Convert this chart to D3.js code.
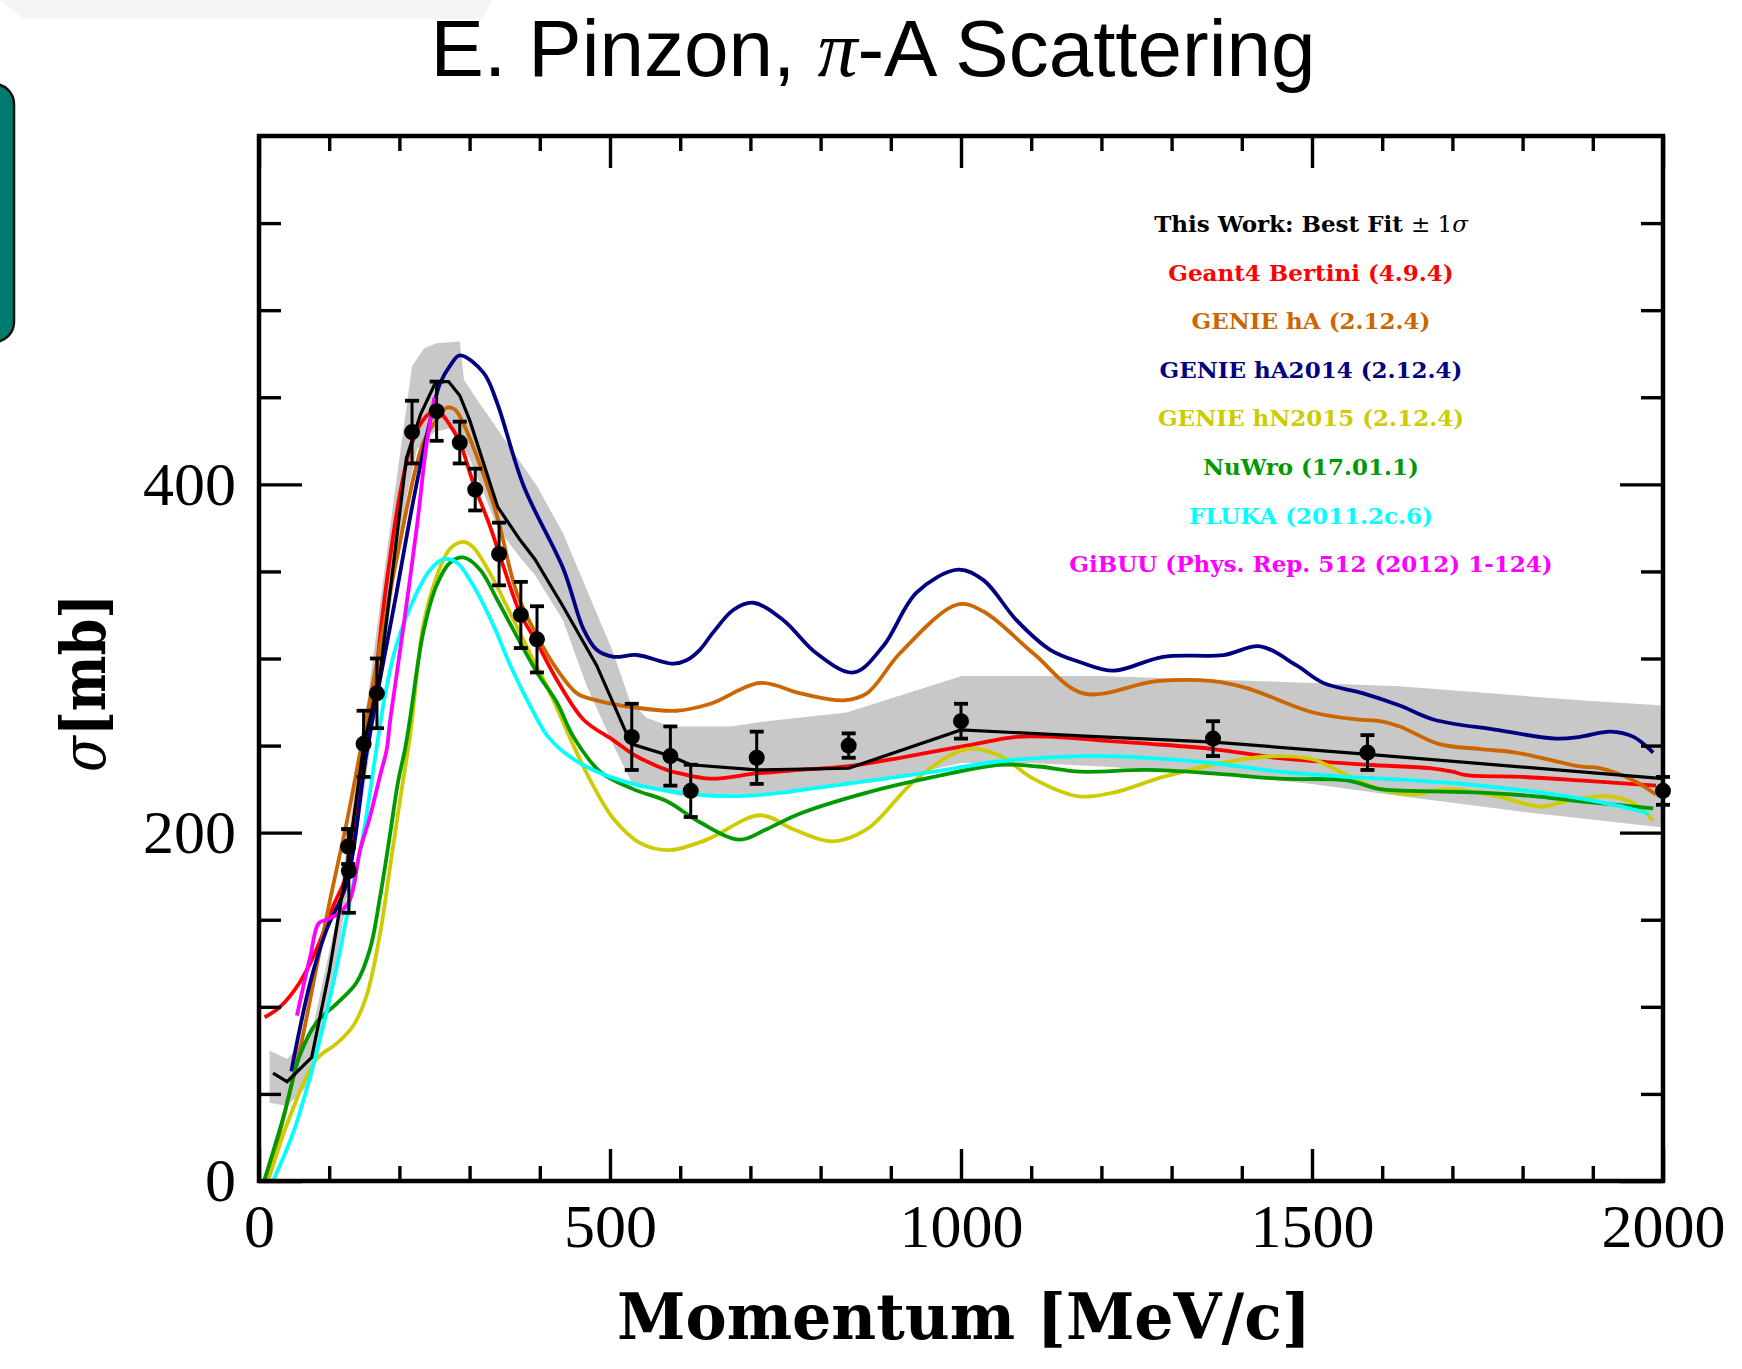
<!DOCTYPE html>
<html>
<head>
<meta charset="utf-8">
<script src="https://cdn.jsdelivr.net/npm/d3@7/dist/d3.min.js"></script>
<style>
body { margin: 0; background: #fff; }
svg { display: block; }
</style>
</head>
<body>
<script>
var width = 1742;
var height = 1369;

// axis ticks
var xMajorTicks = [0, 500, 1000, 1500, 2000];
var xMinorTicks = [100, 200, 300, 400, 600, 700, 800, 900, 1100, 1200, 1300, 1400, 1600, 1700, 1800, 1900];
var yMajorTicks = [0, 200, 400];
var yMinorTicks = [50, 100, 150, 250, 300, 350, 450, 500, 550];

// data points (momentum, cross section, error)
var dataMom = [127, 128, 149, 168, 218, 253, 286, 308, 342, 373, 396, 531, 586, 615, 709, 840, 1000, 1359, 1579, 2000];
var dataXs  = [192, 178, 251, 280, 430, 442, 424, 397, 360, 325, 311, 255, 244, 224, 243, 250, 264, 254, 246, 224];
var dataErr = [10, 24, 19, 20, 18, 17, 12, 12, 18, 19, 19, 19, 17, 15, 15, 7, 10, 10, 10, 8];

// best fit line
var fitMom = [20, 40, 75, 100, 127, 149, 172, 210, 230, 252, 270, 286, 300, 340, 372, 393, 433, 481, 530, 586, 615, 709, 840, 1000, 1200, 1360, 1580, 2000];
var fitXs  = [62, 57, 71, 120, 185, 250, 290, 415, 440, 459, 459, 451, 437, 387, 368, 357, 330, 296, 251, 244, 239, 236, 237, 259, 255, 252, 245, 231];

// +-1 sigma band
var bandUpMom = [15, 40, 75, 110, 150, 190, 218, 235, 253, 286, 292, 310, 396, 433, 505, 528, 552, 586, 671, 723, 837, 1001, 1198, 1502, 1625, 1882, 2000];
var bandUpXs  = [75, 70, 85, 150, 262, 385, 468, 478, 481, 482, 460, 449, 399, 372, 303, 276, 266, 261, 261, 264, 269, 290, 290, 286, 284, 276, 273];
var bandLoMom = [15, 40, 75, 110, 150, 210, 225, 250, 270, 286, 300, 340, 372, 393, 433, 467, 505, 533, 600, 700, 800, 900, 1000, 1100, 1200, 1360, 1500, 1625, 1800, 2000];
var bandLoXs  = [45, 43, 57, 125, 225, 392, 420, 430, 432, 425, 415, 375, 358, 348, 322, 284, 250, 227, 221, 222, 225, 231, 240, 240, 238, 234, 228, 221, 212, 203];

// generators
var g4Mom = [8, 30, 58, 82, 106, 125, 140, 150, 161, 180, 201, 215, 229, 244, 255, 267, 286, 305, 329, 348, 372, 396, 424, 462, 505, 533, 552, 581, 600, 643, 709, 770, 837, 913, 1008, 1079, 1130, 1198, 1270, 1359, 1450, 1578, 1668, 1700, 1720, 1800, 1882, 1990];
var g4Xs  = [94, 100, 114, 133, 158, 176, 212, 240, 271, 338, 395, 420, 434, 441, 442, 437, 424, 401, 376, 353, 326, 309, 288, 265, 253, 245, 241, 236, 234, 231, 234, 236, 238, 243, 250, 255, 255, 253, 251, 248, 243, 239, 237, 235, 233, 232, 230, 227];

var haMom = [12, 58, 82, 101, 125, 144, 170, 196, 234, 253, 267, 279, 291, 315, 339, 367, 396, 424, 453, 481, 533, 595, 643, 714, 771, 832, 866, 913, 995, 1032, 1103, 1174, 1279, 1359, 1407, 1502, 1564, 1597, 1625, 1680, 1740, 1790, 1882, 1910, 1958, 1990];
var haXs  = [0, 75, 123, 161, 206, 246, 302, 357, 424, 437, 444, 443, 435, 411, 382, 338, 313, 294, 280, 276, 272, 270, 274, 286, 280, 276, 280, 303, 331, 327, 303, 280, 287, 287, 283, 269, 265, 264, 261, 251, 248, 246, 238, 237, 230, 222];

var ha14Mom = [46, 73, 96, 125, 153, 196, 220, 244, 258, 272, 286, 320, 339, 377, 434, 462, 481, 505, 538, 590, 609, 628, 647, 676, 704, 747, 794, 847, 889, 937, 996, 1032, 1079, 1127, 1169, 1217, 1288, 1374, 1426, 1478, 1516, 1573, 1625, 1673, 1763, 1848, 1882, 1925, 1958, 1986];
var ha14Xs  = [63, 114, 144, 171, 245, 338, 391, 437, 458, 468, 474, 464, 447, 399, 351, 317, 305, 301, 302, 297, 299, 305, 315, 328, 332, 322, 303, 292, 307, 338, 351, 345, 322, 305, 298, 293, 301, 302, 307, 296, 286, 280, 273, 265, 259, 254, 255, 258, 255, 246];

var hnMom = [13, 44, 82, 111, 134, 153, 172, 187, 201, 216, 234, 253, 272, 291, 305, 329, 358, 386, 415, 448, 476, 505, 543, 585, 638, 714, 761, 817, 866, 937, 1008, 1056, 1103, 1165, 1217, 1288, 1383, 1454, 1502, 1550, 1597, 1644, 1692, 1763, 1825, 1862, 1919, 1958, 1986];
var hnXs  = [0, 37, 70, 79, 89, 106, 141, 181, 219, 258, 319, 347, 363, 367, 364, 349, 326, 303, 280, 250, 227, 208, 194, 190, 196, 210, 202, 195, 202, 231, 248, 244, 231, 221, 223, 232, 241, 244, 242, 233, 225, 222, 225, 221, 215, 218, 221, 217, 207];

var nuMom = [8, 35, 58, 82, 111, 139, 158, 172, 187, 198, 208, 215, 234, 253, 272, 291, 315, 339, 367, 396, 424, 448, 486, 533, 581, 628, 685, 723, 771, 866, 961, 1056, 1110, 1170, 1265, 1359, 1454, 1550, 1597, 1644, 1740, 1815, 1882, 1986];
var nuXs  = [1, 37, 72, 91, 102, 114, 133, 162, 200, 229, 248, 265, 315, 342, 355, 358, 351, 334, 313, 292, 275, 255, 235, 225, 218, 206, 196, 202, 211, 223, 232, 239, 238, 235, 236, 234, 231, 230, 225, 224, 223, 221, 218, 214];

var flMom = [20, 49, 77, 106, 130, 149, 168, 180, 196, 225, 244, 263, 282, 305, 334, 358, 386, 410, 438, 476, 533, 600, 660, 723, 818, 961, 1056, 1170, 1265, 1359, 1454, 1550, 1644, 1740, 1862, 1930, 1980];
var flXs  = [0, 28, 66, 114, 162, 200, 250, 280, 308, 338, 351, 357, 355, 342, 319, 296, 273, 256, 245, 236, 228, 223, 221, 222, 227, 235, 241, 244, 243, 240, 235, 232, 230, 227, 221, 216, 211];

var giMom = [54, 73, 85, 96, 115, 130, 144, 158, 172, 182, 187, 206, 225, 239, 250];
var giXs  = [95, 129, 148, 150, 154, 162, 190, 209, 232, 248, 265, 319, 376, 424, 450];

var legendLabels = ["Geant4 Bertini (4.9.4)", "GENIE hA (2.12.4)", "GENIE hA2014 (2.12.4)", "GENIE hN2015 (2.12.4)",
    "NuWro (17.01.1)", "FLUKA (2011.2c.6)", "GiBUU (Phys. Rep. 512 (2012) 1-124)"];
var legendColors = ["#ff0000", "#cc6600", "#000080", "#cccc00", "#009900", "#00ffff", "#ff00ff"];

var models = [
    { mom: g4Mom, xs: g4Xs },
    { mom: haMom, xs: haXs },
    { mom: ha14Mom, xs: ha14Xs },
    { mom: hnMom, xs: hnXs },
    { mom: nuMom, xs: nuXs },
    { mom: flMom, xs: flXs },
    { mom: giMom, xs: giXs }
];

var svg = d3.select("body")
    .append("svg")
    .attr("width", width)
    .attr("height", height);

// slide leftovers
svg.append("path")
    .attr("d", "M0,0 L492,0 L482,19 L24,19 Z")
    .attr("fill", "#f4f4f4");
svg.append("rect")
    .attr("x", -30).attr("y", 84)
    .attr("width", 44).attr("height", 258)
    .attr("rx", 20)
    .attr("fill", "#017a70")
    .attr("stroke", "#111")
    .attr("stroke-width", 2.5);

var title = svg.append("text")
    .attr("x", 873)
    .attr("y", 76)
    .attr("text-anchor", "middle")
    .attr("font-family", "'Liberation Sans', Arial, sans-serif")
    .attr("font-size", 80);
title.append("tspan").text("E. Pinzon, ");
title.append("tspan").attr("font-family", "'Liberation Serif', serif").attr("font-style", "italic").text("\u03c0");
title.append("tspan").text("-A Scattering");

var x = d3.scaleLinear().domain([0, 2000]).range([259, 1663]);
var y = d3.scaleLinear().domain([0, 600]).range([1181, 136]);

svg.append("clipPath").attr("id", "plotclip")
    .append("rect")
    .attr("x", 259).attr("y", 136)
    .attr("width", 1404).attr("height", 1045);

var plot = svg.append("g").attr("clip-path", "url(#plotclip)");

// band
var bandPts = bandUpMom.map(function(m, i) { return [m, bandUpXs[i]]; })
    .concat(bandLoMom.map(function(m, i) { return [m, bandLoXs[i]]; }).reverse());
var lin = d3.line().x(function(d) { return x(d[0]); }).y(function(d) { return y(d[1]); });
plot.append("path")
    .attr("d", lin(bandPts) + "Z")
    .attr("fill", "#c8c8c8");

// generator curves
var smooth = d3.line()
    .x(function(d) { return x(d[0]); })
    .y(function(d) { return y(d[1]); })
    .curve(d3.curveCatmullRom.alpha(0.5));

models.forEach(function(m, i) {
    var pts = m.mom.map(function(v, j) { return [v, m.xs[j]]; });
    plot.append("path")
        .attr("d", smooth(pts))
        .attr("fill", "none")
        .attr("stroke", legendColors[i])
        .attr("stroke-width", 3.8);
});

// best fit
plot.append("path")
    .attr("d", lin(fitMom.map(function(v, i) { return [v, fitXs[i]]; })))
    .attr("fill", "none")
    .attr("stroke", "#000")
    .attr("stroke-width", 3.2);

// axes
function tickStyle(g) {
    g.select(".domain").remove();
    g.selectAll(".tick line").attr("stroke", "#000").attr("stroke-width", 3.4);
    g.selectAll(".tick text")
        .attr("font-family", "'Liberation Serif', 'Times New Roman', serif")
        .attr("font-size", 62)
        .attr("fill", "#000");
}
var noLabel = function() { return ""; };

svg.append("g").attr("transform", "translate(0,1181)")
    .call(d3.axisBottom(x).tickValues(xMinorTicks).tickSize(-15).tickFormat(noLabel)).call(tickStyle);
svg.append("g").attr("transform", "translate(0,1181)")
    .call(d3.axisBottom(x).tickValues(xMajorTicks).tickSize(-32).tickPadding(22).tickFormat(d3.format("d"))).call(tickStyle);
svg.append("g").attr("transform", "translate(0,136)")
    .call(d3.axisTop(x).tickValues(xMinorTicks).tickSize(-15).tickFormat(noLabel)).call(tickStyle);
svg.append("g").attr("transform", "translate(0,136)")
    .call(d3.axisTop(x).tickValues(xMajorTicks).tickSize(-32).tickFormat(noLabel)).call(tickStyle);
svg.append("g").attr("transform", "translate(259,0)")
    .call(d3.axisLeft(y).tickValues(yMinorTicks).tickSize(-22).tickFormat(noLabel)).call(tickStyle);
svg.append("g").attr("transform", "translate(259,0)")
    .call(d3.axisLeft(y).tickValues(yMajorTicks).tickSize(-43).tickPadding(23).tickFormat(d3.format("d"))).call(tickStyle);
svg.append("g").attr("transform", "translate(1663,0)")
    .call(d3.axisRight(y).tickValues(yMinorTicks).tickSize(-22).tickFormat(noLabel)).call(tickStyle);
svg.append("g").attr("transform", "translate(1663,0)")
    .call(d3.axisRight(y).tickValues(yMajorTicks).tickSize(-43).tickFormat(noLabel)).call(tickStyle);

svg.append("rect")
    .attr("x", 259).attr("y", 136)
    .attr("width", 1404).attr("height", 1045)
    .attr("fill", "none")
    .attr("stroke", "#000")
    .attr("stroke-width", 4.5);

// data points with error bars
var pts = svg.append("g");
dataMom.forEach(function(m, i) {
    var cx = x(m), top = y(dataXs[i] + dataErr[i]), bot = y(dataXs[i] - dataErr[i]);
    pts.append("line").attr("x1", cx).attr("x2", cx).attr("y1", top).attr("y2", bot)
        .attr("stroke", "#000").attr("stroke-width", 3);
    [top, bot].forEach(function(yy) {
        pts.append("line").attr("x1", cx - 7).attr("x2", cx + 7).attr("y1", yy).attr("y2", yy)
            .attr("stroke", "#000").attr("stroke-width", 3.8);
    });
    pts.append("circle").attr("cx", cx).attr("cy", y(dataXs[i])).attr("r", 8).attr("fill", "#000");
});

// legend
var legendFont = "'DejaVu Serif', serif";
var l0 = svg.append("text")
    .attr("x", 1311).attr("y", 232)
    .attr("text-anchor", "middle")
    .attr("font-family", legendFont)
    .attr("font-size", 23)
    .attr("fill", "#000");
l0.append("tspan").attr("font-weight", "bold").text("This Work: Best Fit ");
l0.append("tspan").text("\u00b1 1");
l0.append("tspan").attr("font-style", "italic").text("\u03c3");

legendLabels.forEach(function(lab, i) {
    svg.append("text")
        .attr("x", 1311)
        .attr("y", 232 + (i + 1) * 48.6)
        .attr("text-anchor", "middle")
        .attr("font-family", legendFont)
        .attr("font-weight", "bold")
        .attr("font-size", 23)
        .attr("fill", legendColors[i])
        .text(lab);
});

// axis titles
svg.append("text")
    .attr("x", 964).attr("y", 1339)
    .attr("text-anchor", "middle")
    .attr("font-family", "'DejaVu Serif', serif")
    .attr("font-weight", "bold")
    .attr("font-size", 64)
    .attr("textLength", 694)
    .attr("lengthAdjust", "spacingAndGlyphs")
    .text("Momentum [MeV/c]");

var yl = svg.append("text")
    .attr("transform", "translate(105,683) rotate(-90)")
    .attr("text-anchor", "middle")
    .attr("font-family", "'DejaVu Serif', serif")
    .attr("font-size", 62)
    .attr("textLength", 178)
    .attr("lengthAdjust", "spacingAndGlyphs");
yl.append("tspan").attr("font-style", "italic").text("\u03c3");
yl.append("tspan").attr("font-weight", "bold").text("[mb]");
</script>
</body>
</html>
